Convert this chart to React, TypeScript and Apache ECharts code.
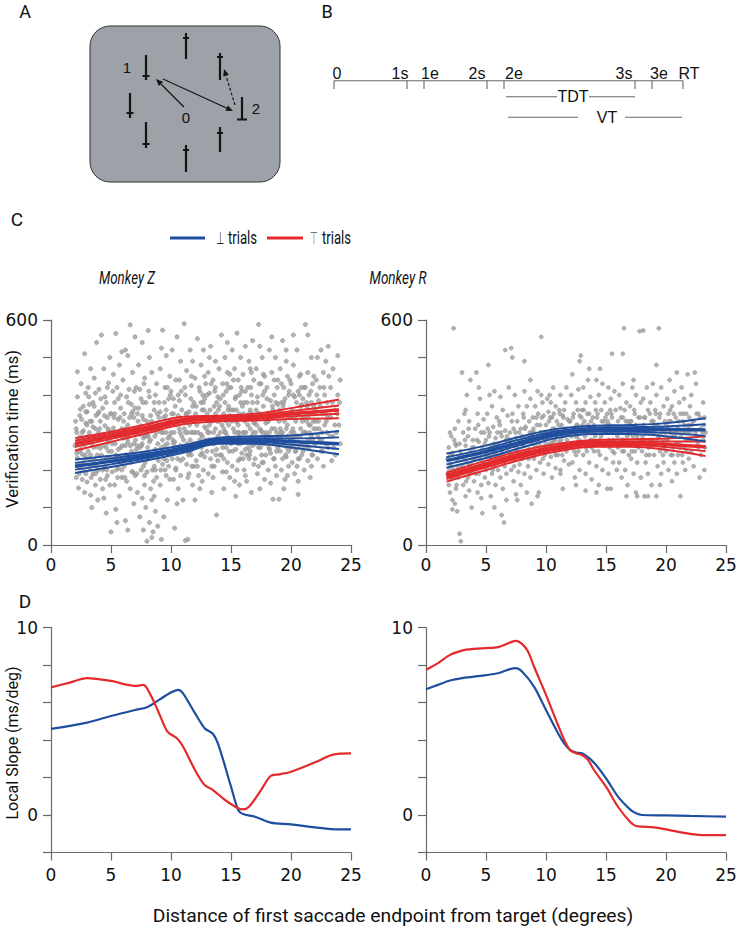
import React, { useEffect, useRef } from "react";
import * as echarts from "echarts";

const BLUE = "#1f4e9e";
const RED = "#e42a2d";
const PT = "#a0a0a0";

const vtLabelValues = [0, 600];
const slopeLabelValues = [0, 10];

// Monkey Z scatter: flat pairs [x, y, x, y, ...]
const scatterZ = [
  2.0,265, 2.1,310, 2.1,180, 2.2,232, 2.2,395, 2.3,280, 2.3,152, 2.4,345, 2.4,205, 2.5,430, 2.5,255, 2.6,175, 2.6,300, 2.7,370, 2.7,220, 2.8,510, 2.8,140, 2.8,268, 2.9,325, 2.9,190, 2.9,405, 2.2,462, 2.6,242, 2.4,288, 2.9,232,
  3.0,355, 3.0,168, 3.1,250, 3.1,420, 3.2,300, 3.2,205, 3.3,470, 3.3,133, 3.4,330, 3.4,270, 3.5,190, 3.5,380, 3.6,228, 3.6,445, 3.7,160, 3.7,310, 3.8,540, 3.8,262, 3.9,350, 3.9,198, 3.1,290, 3.3,240, 3.5,315, 3.7,405, 3.9,120, 3.4,100, 3.2,375,
  4.0,280, 4.0,415, 4.1,175, 4.1,330, 4.2,560, 4.2,240, 4.3,365, 4.3,150, 4.4,295, 4.4,470, 4.5,210, 4.5,395, 4.6,260, 4.6,85, 4.7,340, 4.7,185, 4.8,432, 4.8,305, 4.9,230, 4.9,500, 4.1,258, 4.3,200, 4.5,318, 4.7,272, 4.9,160, 4.4,125, 4.6,380,
  5.0,35, 5.0,350, 5.1,270, 5.1,195, 5.2,455, 5.2,312, 5.3,160, 5.3,380, 5.4,564, 5.4,240, 5.5,290, 5.5,420, 5.6,205, 5.6,335, 5.7,130, 5.7,480, 5.8,260, 5.8,365, 5.9,180, 5.9,310, 5.2,225, 5.4,95, 5.6,255, 5.8,400, 5.0,300, 5.5,60, 5.9,515,
  6.0,285, 6.0,440, 6.1,210, 6.1,350, 6.2,65, 6.2,265, 6.3,395, 6.3,170, 6.4,320, 6.4,505, 6.5,235, 6.5,290, 6.6,587, 6.6,150, 6.7,375, 6.7,250, 6.8,460, 6.8,195, 6.9,340, 6.9,110, 6.1,300, 6.3,230, 6.5,415, 6.7,300, 6.9,270, 6.4,40, 6.8,355, 6.2,520,
  7.0,310, 7.0,185, 7.1,420, 7.1,255, 7.2,140, 7.2,350, 7.3,480, 7.3,228, 7.4,295, 7.4,75, 7.5,390, 7.5,200, 7.6,540, 7.6,270, 7.7,40, 7.7,335, 7.8,160, 7.8,445, 7.9,245, 7.9,100, 7.1,300, 7.3,365, 7.5,318, 7.7,210, 7.9,380, 7.2,265, 7.6,125, 7.4,415, 7.8,290, 7.0,555,
  8.0,10, 8.0,330, 8.1,572, 8.1,230, 8.2,60, 8.2,395, 8.3,280, 8.3,150, 8.4,460, 8.4,120, 8.5,305, 8.5,35, 8.6,210, 8.6,360, 8.7,90, 8.7,255, 8.8,430, 8.8,180, 8.9,50, 8.9,320, 8.1,290, 8.3,345, 8.5,240, 8.7,400, 8.9,270, 8.2,500, 8.6,130, 8.4,20, 8.8,300, 8.0,195,
  9.0,380, 9.0,245, 9.1,160, 9.1,470, 9.2,15, 9.2,300, 9.3,573, 9.3,215, 9.4,340, 9.4,75, 9.5,420, 9.5,265, 9.6,185, 9.6,505, 9.7,320, 9.7,120, 9.8,390, 9.8,240, 9.9,290, 9.9,450, 9.1,355, 9.3,280, 9.5,200, 9.7,270, 9.9,175, 9.2,525, 9.6,360,
  10.0,300, 10.0,410, 10.1,230, 10.1,520, 10.2,350, 10.2,175, 10.3,45, 10.3,275, 10.4,440, 10.4,205, 10.5,330, 10.5,555, 10.6,260, 10.6,150, 10.7,385, 10.7,310, 10.8,490, 10.8,225, 10.9,290, 10.9,360, 10.2,270, 10.4,320, 10.6,400, 10.8,185, 10.0,250, 10.5,110,
  11.0,120, 11.0,330, 11.1,590, 11.1,260, 11.2,12, 11.2,400, 11.3,215, 11.3,465, 11.4,15, 11.4,300, 11.5,355, 11.5,190, 11.6,520, 11.6,280, 11.7,240, 11.7,425, 11.8,335, 11.8,160, 11.9,380, 11.9,270, 11.1,310, 11.3,350, 11.5,245, 11.7,300, 11.9,210, 11.4,180, 11.8,490,
  12.0,300, 12.0,445, 12.1,225, 12.1,370, 12.2,550, 12.2,265, 12.3,185, 12.3,330, 12.4,410, 12.4,150, 12.5,295, 12.5,480, 12.6,245, 12.6,360, 12.7,200, 12.7,520, 12.8,315, 12.8,390, 12.9,270, 12.9,430, 12.2,340, 12.4,280, 12.6,170, 12.8,235, 12.0,120, 12.5,380,
  13.0,350, 13.0,250, 13.1,460, 13.1,190, 13.2,300, 13.2,405, 13.3,530, 13.3,230, 13.4,330, 13.4,140, 13.5,270, 13.5,440, 13.6,370, 13.6,210, 13.7,490, 13.7,310, 13.8,80, 13.8,255, 13.9,395, 13.9,290, 13.1,340, 13.3,280, 13.5,180, 13.7,420, 13.9,225, 13.2,500,
  14.0,330, 14.0,470, 14.1,240, 14.1,390, 14.2,560, 14.2,280, 14.3,195, 14.3,430, 14.4,350, 14.4,150, 14.5,300, 14.5,500, 14.6,260, 14.6,410, 14.7,540, 14.7,220, 14.8,370, 14.8,320, 14.9,180, 14.9,455, 14.1,300, 14.3,260, 14.5,380, 14.7,290, 14.9,345, 14.4,230, 14.6,195,
  15.0,270, 15.0,420, 15.1,520, 15.1,210, 15.2,360, 15.2,310, 15.3,170, 15.3,470, 15.4,255, 15.4,395, 15.5,565, 15.5,330, 15.6,225, 15.6,440, 15.7,290, 15.7,160, 15.8,380, 15.8,500, 15.9,245, 15.9,340, 15.1,280, 15.3,300, 15.5,200, 15.7,350, 15.9,410, 15.4,130, 15.6,270,
  16.0,300, 16.0,455, 16.1,200, 16.1,380, 16.2,530, 16.2,255, 16.3,340, 16.3,170, 16.4,420, 16.4,280, 16.5,230, 16.5,490, 16.6,360, 16.6,310, 16.7,140, 16.7,400, 16.8,265, 16.8,545, 16.9,325, 16.9,215, 16.1,300, 16.3,240, 16.5,350, 16.7,290, 16.9,440, 16.2,185, 16.6,470,
  17.0,330, 17.0,230, 17.1,470, 17.1,285, 17.2,190, 17.2,395, 17.3,588, 17.3,260, 17.4,350, 17.4,150, 17.5,430, 17.5,305, 17.6,220, 17.6,500, 17.7,370, 17.7,270, 17.8,175, 17.8,410, 17.9,325, 17.9,240, 17.1,360, 17.3,210, 17.5,280, 17.7,455, 17.9,300, 17.4,530, 17.8,340,
  18.0,290, 18.0,420, 18.1,200, 18.1,350, 18.2,520, 18.2,255, 18.3,385, 18.3,165, 18.4,310, 18.4,460, 18.5,122, 18.5,280, 18.6,230, 18.6,400, 18.7,340, 18.7,500, 18.8,185, 18.8,300, 18.9,260, 18.9,440, 18.1,330, 18.3,245, 18.5,360, 18.7,210, 18.9,375, 18.4,555, 18.6,275,
  19.0,122, 19.0,330, 19.1,250, 19.1,470, 19.2,380, 19.2,200, 19.3,300, 19.3,545, 19.4,270, 19.4,420, 19.5,175, 19.5,350, 19.6,235, 19.6,490, 19.7,320, 19.7,290, 19.8,400, 19.8,210, 19.9,265, 19.9,440, 19.1,310, 19.3,230, 19.5,390, 19.7,185, 19.9,340, 19.4,150, 19.6,520,
  20.0,300, 20.0,430, 20.1,220, 20.1,360, 20.2,480, 20.2,265, 20.3,190, 20.3,395, 20.4,330, 20.4,250, 20.5,520, 20.5,290, 20.6,170, 20.6,410, 20.7,350, 20.7,230, 20.8,455, 20.8,310, 20.9,270, 20.9,375, 20.1,285, 20.3,340, 20.5,210, 20.7,400, 20.9,240, 20.2,560, 20.6,135,
  21.0,340, 21.0,250, 21.1,420, 21.1,200, 21.2,588, 21.2,300, 21.3,380, 21.3,270, 21.4,460, 21.4,225, 21.5,320, 21.5,400, 21.6,180, 21.6,350, 21.7,500, 21.7,290, 21.8,240, 21.8,430, 21.9,310, 21.9,370, 21.1,300, 21.3,330, 21.5,260, 21.7,210, 21.9,450, 21.4,560,
  22.0,360, 22.0,270, 22.1,440, 22.1,310, 22.2,230, 22.2,500, 22.3,385, 22.3,330, 22.4,280, 22.4,420, 22.5,520, 22.5,250, 22.6,350, 22.6,300, 22.7,460, 22.7,210, 22.8,400, 22.8,320, 22.9,270, 22.9,490,
  23.0,380, 23.0,300, 23.1,530, 23.1,260, 23.3,420, 23.3,340, 23.5,290, 23.5,470, 23.7,360, 23.7,240, 23.9,400, 23.9,505, 24.0,320, 24.1,440, 24.1,270, 23.4,225, 23.8,300,
  2.15,300, 2.35,250, 2.55,335, 2.75,198, 2.95,278, 2.25,215, 2.45,362, 2.65,285, 2.85,240, 2.05,330, 2.5,215, 2.7,305, 2.35,190, 2.9,355, 2.6,270, 2.15,245,
  3.05,275, 3.25,330, 3.45,215, 3.65,290, 3.85,240, 3.15,395, 3.35,180, 3.55,260, 3.75,345, 3.95,300, 3.2,230, 3.6,370, 3.8,210, 3.4,285, 3.0,320, 3.7,190,
  4.05,310, 4.25,225, 4.45,345, 4.65,200, 4.85,280, 4.15,390, 4.35,265, 4.55,175, 4.75,310, 4.95,350, 4.2,290, 4.6,230, 4.8,250, 4.4,205, 4.0,355, 4.7,420,
  5.05,250, 5.25,340, 5.45,200, 5.65,300, 5.85,220, 5.15,410, 5.35,270, 5.55,180, 5.75,340, 5.95,265, 5.1,300, 5.5,235, 5.8,295, 5.3,350, 5.6,390, 5.9,200,
  6.05,330, 6.25,240, 6.45,380, 6.65,220, 6.85,300, 6.15,180, 6.35,285, 6.55,340, 6.75,195, 6.95,410, 6.2,310, 6.6,265, 6.8,240, 6.4,275, 6.0,225, 6.7,350,
  7.05,280, 7.25,330, 7.45,240, 7.65,380, 7.85,220, 7.15,190, 7.35,310, 7.55,265, 7.75,430, 7.95,300, 7.2,235, 7.6,345, 7.8,185, 7.4,260, 7.0,365, 7.7,285,
  8.05,260, 8.25,320, 8.45,200, 8.65,290, 8.85,350, 8.15,410, 8.35,240, 8.55,170, 8.75,310, 8.95,225, 8.2,275, 8.6,380, 8.8,245, 8.4,330, 8.0,290, 8.7,200,
  9.05,310, 9.25,250, 9.45,380, 9.65,225, 9.85,330, 9.15,200, 9.35,300, 9.55,345, 9.75,285, 9.95,400, 9.2,260, 9.6,300, 9.8,210, 9.4,230, 9.0,340, 9.7,420,
  10.05,350, 10.25,300, 10.45,260, 10.65,330, 10.85,410, 10.15,280, 10.35,370, 10.55,230, 10.75,300, 10.95,250, 10.2,390, 10.6,345, 10.8,265, 10.4,200, 10.0,330, 10.7,440,
  11.05,280, 11.25,350, 11.45,240, 11.65,390, 11.85,300, 11.15,420, 11.35,270, 11.55,320, 11.75,210, 11.95,340, 11.2,300, 11.6,250, 11.8,370, 11.4,330, 11.0,230, 11.7,450,
  12.05,350, 12.25,300, 12.45,240, 12.65,400, 12.85,280, 12.15,320, 12.35,420, 12.55,260, 12.75,360, 12.95,310, 12.2,210, 12.6,290, 12.8,450, 12.4,340, 12.0,270, 12.7,380,
  13.05,300, 13.25,360, 13.45,250, 13.65,410, 13.85,330, 13.15,280, 13.35,430, 13.55,300, 13.75,240, 13.95,360, 13.2,320, 13.6,270, 13.8,380, 13.4,210, 13.0,400, 13.7,350,
  14.05,370, 14.25,320, 14.45,280, 14.65,430, 14.85,250, 14.15,340, 14.35,400, 14.55,300, 14.75,360, 14.95,280, 14.2,240, 14.6,330, 14.8,420, 14.4,310, 14.0,280, 14.7,460,
  15.05,330, 15.25,280, 15.45,360, 15.65,300, 15.85,420, 15.15,250, 15.35,390, 15.55,300, 15.75,230, 15.95,370, 15.2,440, 15.6,320, 15.8,270, 15.4,330, 15.0,360, 15.7,400,
  16.05,350, 16.25,300, 16.45,260, 16.65,420, 16.85,300, 16.15,330, 16.35,380, 16.55,240, 16.75,350, 16.95,280, 16.2,410, 16.6,250, 16.8,380, 16.4,320, 16.0,230, 16.7,460,
  17.05,300, 17.25,350, 17.45,260, 17.65,400, 17.85,290, 17.15,320, 17.35,430, 17.55,240, 17.75,340, 17.95,270, 17.2,380, 17.6,300, 17.8,450, 17.4,310, 17.0,270, 17.7,220,
  18.05,330, 18.25,280, 18.45,370, 18.65,310, 18.85,420, 18.15,260, 18.35,340, 18.55,230, 18.75,380, 18.95,290, 18.2,300, 18.6,440, 18.8,250, 18.4,350, 18.0,390, 18.7,270,
  19.05,360, 19.25,290, 19.45,330, 19.65,260, 19.85,410, 19.15,300, 19.35,370, 19.55,240, 19.75,350, 19.95,280, 19.2,430, 19.6,310, 19.8,250, 19.4,380, 19.0,270, 19.7,450,
  20.05,340, 20.25,300, 20.45,380, 20.65,260, 20.85,420, 20.15,310, 20.35,250, 20.55,350, 20.75,290, 20.95,330, 20.2,400, 20.6,230, 20.8,370, 20.4,290, 20.0,260, 20.7,450,
  21.05,300, 21.25,350, 21.45,280, 21.65,410, 21.85,330, 21.15,260, 21.35,370, 21.55,300, 21.75,240, 21.95,350, 21.2,420, 21.6,320, 21.8,280, 21.4,340, 21.0,390, 21.7,380,
  22.05,330, 22.25,290, 22.45,370, 22.65,250, 22.85,350, 22.15,400, 22.35,310, 22.55,280, 22.75,420, 22.95,330,
  23.05,340, 23.25,290, 23.45,380, 23.65,320, 23.85,350, 24.05,380, 23.15,450, 23.55,260,
];

// Monkey R scatter: flat pairs [x, y, ...]
const scatterR = [
  1.8,190, 1.8,230, 1.9,160, 1.9,260, 2.0,215, 2.0,140, 2.1,290, 2.1,175, 2.2,245, 2.2,120, 2.3,578, 2.3,200, 2.4,110, 2.4,310, 2.5,265, 2.5,150, 2.6,90, 2.6,225, 2.7,180, 2.7,330, 2.8,30, 2.8,270, 2.9,10, 2.9,205, 2.0,300, 2.5,185, 2.2,95,
  3.0,460, 3.0,240, 3.1,160, 3.1,300, 3.2,200, 3.2,350, 3.3,130, 3.3,265, 3.4,220, 3.4,400, 3.5,180, 3.5,290, 3.6,145, 3.6,330, 3.7,250, 3.7,440, 3.8,195, 3.8,100, 3.9,280, 3.9,230, 3.3,360, 3.6,210,
  4.0,260, 4.0,170, 4.1,310, 4.1,205, 4.2,460, 4.2,240, 4.3,140, 4.3,350, 4.4,275, 4.4,190, 4.5,230, 4.5,390, 4.6,160, 4.6,300, 4.7,250, 4.7,85, 4.8,335, 4.8,215, 4.9,270, 4.9,180, 4.4,420, 4.6,125,
  5.0,280, 5.0,200, 5.1,350, 5.1,240, 5.2,165, 5.2,480, 5.3,300, 5.3,225, 5.4,260, 5.4,130, 5.5,370, 5.5,190, 5.6,315, 5.6,245, 5.7,210, 5.7,410, 5.8,285, 5.8,160, 5.9,340, 5.9,230, 5.3,400, 5.7,100,
  6.0,270, 6.0,200, 6.1,330, 6.1,235, 6.2,180, 6.2,395, 6.3,290, 6.3,250, 6.4,150, 6.4,360, 6.5,60, 6.5,220, 6.6,520, 6.6,305, 6.7,260, 6.7,190, 6.8,345, 6.8,230, 6.9,280, 6.9,420, 6.3,80, 6.7,120,
  7.0,300, 7.0,240, 7.1,525, 7.1,200, 7.2,350, 7.2,265, 7.3,170, 7.3,310, 7.4,230, 7.4,400, 7.5,285, 7.5,135, 7.6,330, 7.6,250, 7.7,195, 7.7,370, 7.8,275, 7.8,215, 7.9,310, 7.9,160, 7.2,500, 7.6,120,
  8.0,290, 8.0,230, 8.1,350, 8.1,265, 8.2,190, 8.2,410, 8.3,315, 8.3,245, 8.4,140, 8.4,370, 8.5,280, 8.5,210, 8.6,330, 8.6,255, 8.7,390, 8.7,180, 8.8,300, 8.8,110, 8.9,240, 8.9,340, 8.2,490, 8.7,440,
  9.0,300, 9.0,230, 9.1,370, 9.1,265, 9.2,200, 9.2,340, 9.3,280, 9.3,410, 9.4,250, 9.4,140, 9.5,320, 9.5,220, 9.6,555, 9.6,300, 9.7,260, 9.7,380, 9.8,190, 9.8,345, 9.9,285, 9.9,240, 9.3,130, 9.6,400,
  10.0,320, 10.0,250, 10.1,390, 10.1,285, 10.2,215, 10.2,355, 10.3,270, 10.3,400, 10.4,300, 10.4,235, 10.5,340, 10.5,180, 10.6,275, 10.6,420, 10.7,310, 10.7,250, 10.8,370, 10.8,205, 10.9,290, 10.9,330, 10.4,380, 10.8,240,
  11.0,300, 11.0,240, 11.1,360, 11.1,275, 11.2,200, 11.2,400, 11.3,320, 11.3,260, 11.4,150, 11.4,345, 11.5,290, 11.5,225, 11.6,380, 11.6,310, 11.7,250, 11.7,420, 11.8,335, 11.8,270, 11.9,215, 11.9,300, 11.5,360, 11.2,190,
  12.0,330, 12.0,260, 12.1,400, 12.1,290, 12.2,220, 12.2,455, 12.3,310, 12.3,350, 12.4,270, 12.4,180, 12.5,380, 12.5,240, 12.6,320, 12.6,290, 12.7,250, 12.7,415, 12.8,345, 12.8,200, 12.9,275, 12.9,505, 12.5,160, 12.8,490,
  13.0,300, 13.0,360, 13.1,240, 13.1,420, 13.2,330, 13.2,270, 13.3,190, 13.3,380, 13.4,300, 13.4,250, 13.5,440, 13.5,320, 13.6,220, 13.6,350, 13.7,280, 13.7,395, 13.8,260, 13.8,175, 13.9,340, 13.9,300, 13.3,145, 13.6,470,
  14.0,320, 14.0,250, 14.1,380, 14.1,290, 14.2,210, 14.2,440, 14.3,350, 14.3,270, 14.4,160, 14.4,400, 14.5,310, 14.5,240, 14.6,360, 14.6,290, 14.7,200, 14.7,430, 14.8,330, 14.8,265, 14.9,380, 14.9,310, 14.5,470, 14.2,140,
  15.0,300, 15.0,230, 15.1,350, 15.1,270, 15.2,420, 15.2,190, 15.3,320, 15.3,260, 15.4,390, 15.4,150, 15.5,300, 15.5,340, 15.6,220, 15.6,280, 15.7,410, 15.7,245, 15.8,360, 15.8,310, 15.9,200, 15.9,270, 15.5,510, 15.1,150,
  16.0,330, 16.0,260, 16.1,400, 16.1,220, 16.2,300, 16.2,365, 16.3,180, 16.3,280, 16.4,340, 16.4,430, 16.5,578, 16.5,250, 16.6,310, 16.6,200, 16.7,380, 16.7,270, 16.8,160, 16.8,330, 16.9,295, 16.9,240, 16.4,510, 16.7,130,
  17.0,300, 17.0,370, 17.1,230, 17.1,330, 17.2,270, 17.2,420, 17.3,190, 17.3,310, 17.4,350, 17.4,250, 17.5,140, 17.5,400, 17.6,290, 17.6,220, 17.7,340, 17.7,260, 17.8,570, 17.8,305, 17.9,180, 17.9,380, 17.3,440, 17.6,130,
  18.0,310, 18.0,250, 18.1,390, 18.1,280, 18.2,130, 18.2,340, 18.3,220, 18.3,300, 18.4,420, 18.4,265, 18.5,360, 18.5,190, 18.6,310, 18.6,240, 18.7,380, 18.7,280, 18.8,160, 18.8,330, 18.9,270, 18.9,430, 18.1,572, 18.5,130,
  19.0,300, 19.0,240, 19.1,360, 19.1,270, 19.2,130, 19.2,400, 19.3,320, 19.3,210, 19.4,578, 19.4,290, 19.5,350, 19.5,250, 19.6,190, 19.6,420, 19.7,310, 19.7,275, 19.8,370, 19.8,220, 19.9,330, 19.9,265, 19.2,480, 19.5,160,
  20.0,320, 20.0,250, 20.1,390, 20.1,280, 20.2,200, 20.2,350, 20.3,300, 20.3,440, 20.4,240, 20.4,330, 20.5,170, 20.5,370, 20.6,290, 20.6,260, 20.7,410, 20.7,220, 20.8,340, 20.8,300, 20.9,190, 20.9,460,
  21.0,310, 21.0,240, 21.1,380, 21.1,270, 21.2,130, 21.2,350, 21.3,300, 21.3,420, 21.4,220, 21.4,330, 21.5,260, 21.5,390, 21.6,200, 21.6,300, 21.7,350, 21.7,250, 21.8,455, 21.8,280, 21.9,320, 21.9,230,
  22.0,300, 22.0,370, 22.1,250, 22.1,400, 22.3,330, 22.3,210, 22.5,290, 22.5,430, 22.7,260, 22.7,350, 22.9,310, 22.9,240, 23.1,380, 23.1,280, 23.2,200, 23.2,340, 23.3,300, 22.4,460, 22.8,180,
  2.05,240, 2.25,180, 2.45,270, 2.65,205, 2.85,250, 2.15,210, 2.55,160, 2.75,235, 1.95,200, 2.35,280,
  3.05,210, 3.25,280, 3.45,240, 3.65,190, 3.85,260, 3.15,230, 3.55,310, 3.75,215, 3.35,170, 3.95,245,
  4.05,230, 4.25,280, 4.45,210, 4.65,260, 4.85,300, 4.15,190, 4.55,245, 4.75,220, 4.35,320, 4.95,240,
  5.05,250, 5.25,290, 5.45,220, 5.65,270, 5.85,240, 5.15,310, 5.55,200, 5.75,260, 5.35,235, 5.95,300,
  6.05,260, 6.25,300, 6.45,240, 6.65,280, 6.85,250, 6.15,320, 6.55,210, 6.75,290, 6.35,230, 6.95,265,
  7.05,280, 7.25,230, 7.45,300, 7.65,270, 7.85,240, 7.15,330, 7.55,260, 7.75,300, 7.35,210, 7.95,280,
  8.05,270, 8.25,310, 8.45,250, 8.65,300, 8.85,270, 8.15,340, 8.55,230, 8.75,290, 8.35,280, 8.95,310,
  9.05,280, 9.25,320, 9.45,270, 9.65,340, 9.85,300, 9.15,250, 9.55,300, 9.75,230, 9.35,350, 9.95,270,
  10.05,300, 10.25,330, 10.45,270, 10.65,350, 10.85,300, 10.15,260, 10.55,310, 10.75,280, 10.35,340, 10.95,260,
  11.05,320, 11.25,280, 11.45,340, 11.65,300, 11.85,260, 11.15,350, 11.55,300, 11.75,280, 11.35,240, 11.95,330,
  12.05,300, 12.25,340, 12.45,290, 12.65,360, 12.85,310, 12.15,270, 12.55,320, 12.75,280, 12.35,250, 12.95,340,
  13.05,320, 13.25,290, 13.45,350, 13.65,310, 13.85,280, 13.15,360, 13.55,300, 13.75,330, 13.35,260, 13.95,310,
  14.05,300, 14.25,340, 14.45,280, 14.65,330, 14.85,300, 14.15,360, 14.55,270, 14.75,310, 14.35,250, 14.95,340,
  15.05,320, 15.25,280, 15.45,350, 15.65,300, 15.85,270, 15.15,330, 15.55,250, 15.75,310, 15.35,360, 15.95,290,
  16.05,300, 16.25,340, 16.45,280, 16.65,330, 16.85,270, 16.15,310, 16.55,360, 16.75,290, 16.35,250, 16.95,320,
  17.05,330, 17.25,290, 17.45,320, 17.65,270, 17.85,340, 17.15,250, 17.55,300, 17.75,310, 17.35,360, 17.95,280,
  18.05,290, 18.25,340, 18.45,300, 18.65,350, 18.85,280, 18.15,320, 18.55,260, 18.75,300, 18.35,240, 18.95,330,
  19.05,320, 19.25,280, 19.45,340, 19.65,300, 19.85,260, 19.15,350, 19.55,310, 19.75,240, 19.35,290, 19.95,300,
  20.05,280, 20.25,330, 20.45,300, 20.65,350, 20.85,270, 20.15,310, 20.55,240, 20.75,290, 20.35,360, 20.95,300,
  21.05,330, 21.25,290, 21.45,350, 21.65,280, 21.85,310, 21.15,260, 21.55,320, 21.75,300, 21.35,240, 21.95,340,
  22.05,280, 22.25,330, 22.45,300, 22.65,270, 22.85,340, 23.05,300, 23.25,260, 22.15,320, 22.55,350, 23.15,320,
];

// Fitted curves (panel C)
const fitZX = [2, 5, 8, 11, 14, 17, 20, 24];
const zRedHi = [285, 302, 322, 342, 345, 350, 365, 388];
const zRedHiIn = [278, 297, 316, 337, 342, 345, 357, 372];
const zRedMid = [270, 290, 310, 332, 338, 340, 350, 360];
const zRedLoIn = [262, 283, 304, 327, 334, 336, 343, 350];
const zRedLo = [252, 275, 298, 322, 330, 332, 336, 338];
const zBlueHi = [228, 238, 250, 266, 286, 290, 292, 304];
const zBlueHiIn = [219, 231, 244, 261, 282, 285, 284, 287];
const zBlueMid = [210, 223, 238, 256, 278, 280, 276, 270];
const zBlueLoIn = [201, 215, 232, 251, 274, 275, 268, 256];
const zBlueLo = [192, 208, 226, 246, 270, 270, 260, 242];

const fitRX = [1.7, 5, 8, 11, 14, 17, 20, 23.3];
const rBlueHi = [244, 265, 290, 310, 318, 320, 325, 338];
const rBlueHiIn = [234, 257, 283, 304, 313, 314, 316, 322];
const rBlueMid = [225, 249, 275, 298, 307, 308, 308, 307];
const rBlueLoIn = [215, 240, 268, 292, 302, 302, 299, 291];
const rBlueLo = [206, 232, 260, 286, 296, 296, 290, 276];
const rRedHi = [193, 225, 252, 270, 280, 282, 284, 289];
const rRedHiIn = [188, 219, 246, 265, 276, 277, 276, 276];
const rRedMid = [182, 213, 240, 260, 271, 272, 268, 262];
const rRedLoIn = [176, 207, 234, 255, 267, 267, 261, 250];
const rRedLo = [169, 200, 228, 250, 262, 262, 254, 237];

// Local slope (panel D)
const slopeZRed: [number, number][] = [
  [0, 6.81], [1.5, 7.05], [3, 7.3], [5, 7.15], [7, 6.89], [7.7, 6.94], [8.3, 6.4], [9, 5.43], [9.7, 4.45], [10.5, 4.09],
  [11, 3.65], [12, 2.4], [12.8, 1.6], [13.5, 1.33], [14.5, 0.8], [15.5, 0.39], [16, 0.3], [16.5, 0.44], [17.5, 1.33],
  [18.3, 2.08], [19, 2.17], [20, 2.31], [22, 2.81], [23.5, 3.22], [25, 3.29],
];
const slopeZBlue: [number, number][] = [
  [0, 4.59], [3, 4.93], [5, 5.28], [7, 5.6], [8, 5.75], [9, 6.14], [10, 6.53], [10.6, 6.67], [11, 6.49], [12, 5.43],
  [12.8, 4.63], [13.5, 4.32], [14, 3.65], [15, 1.51], [15.6, 0.27], [16, 0.05], [17, -0.09], [18.3, -0.41], [20, -0.5],
  [22, -0.66], [24, -0.77], [25, -0.77],
];
const slopeRRed: [number, number][] = [
  [0, 7.74], [1, 8.1], [2, 8.54], [3, 8.77], [4, 8.86], [5, 8.9], [6, 8.95], [7, 9.2], [7.5, 9.29], [8, 9.13], [8.5, 8.72],
  [9, 7.92], [10, 6.41], [11, 4.8], [11.5, 4.04], [12, 3.47], [12.5, 3.29], [13, 3.2], [13.5, 2.94], [14, 2.4], [15, 1.51],
  [16, 0.44], [17, -0.36], [17.5, -0.59], [18, -0.62], [19, -0.66], [20, -0.77], [22, -1.01], [23, -1.07], [25, -1.07],
];
const slopeRBlue: [number, number][] = [
  [0, 6.71], [1, 6.94], [2, 7.17], [3, 7.3], [4, 7.38], [5, 7.46], [6, 7.56], [7, 7.78], [7.5, 7.83], [8, 7.65], [9, 6.85],
  [10, 5.6], [11, 4.36], [11.5, 3.83], [12, 3.47], [12.5, 3.33], [13, 3.29], [14, 2.79], [15, 1.96], [16, 0.98], [17, 0.3],
  [17.5, 0.09], [18, 0], [20, -0.02], [22, -0.05], [25, -0.09],
];

const timelineLabels = ["0", "1s", "1e", "2s", "2e", "3s", "3e", "RT"];

const MY = "Roboto, 'Open Sans', 'DejaVu Sans', sans-serif";
const TICKFONT = "'DejaVu Sans', sans-serif";
const HEL = "'Liberation Sans', Arial, sans-serif";
const SYM = "'DejaVu Sans', sans-serif";

function pairs(flat: number[]): number[][] {
  const out: number[][] = [];
  for (let i = 0; i + 1 < flat.length; i += 2) out.push([flat[i], flat[i + 1]]);
  return out;
}

export default function App() {
  const ref = useRef<HTMLDivElement>(null);
  useEffect(() => {
    document.body.style.margin = "0";
    const chart = echarts.init(ref.current!, null, { renderer: "svg" });
    const ctx = document.createElement("canvas").getContext("2d")!;
    const fit = (text: string, font: string, target: number) => {
      ctx.font = font;
      const w = ctx.measureText(text).width;
      return w > 0 ? target / w : 1;
    };

    const axisColor = "#6a6a6a";
    const lineStyle = { color: axisColor, width: 1.2 };
    const xAxis = (gridIndex: number, margin: number) => ({
      type: "value",
      gridIndex,
      min: 0,
      max: 25,
      interval: 5,
      axisLine: { show: true, onZero: false, lineStyle },
      axisTick: { show: true, length: 8, lineStyle },
      axisLabel: { margin, fontFamily: TICKFONT, fontSize: 17, color: "#111", showMinLabel: true, showMaxLabel: true },
      splitLine: { show: false },
    });
    const yAxis = (gridIndex: number, min: number, max: number, interval: number, shown: number[]) => ({
      type: "value",
      gridIndex,
      min,
      max,
      interval,
      axisLine: { show: true, onZero: false, lineStyle },
      axisTick: { show: true, length: 8, lineStyle },
      axisLabel: {
        margin: 13,
        fontFamily: TICKFONT,
        fontSize: 17,
        color: "#111",
        formatter: (v: number) => (shown.indexOf(v) >= 0 ? String(v) : ""),
      },
      splitLine: { show: false },
    });

    const curve = (idx: number, xs: number[], ys: number[], color: string, width: number, z: number) => ({
      type: "line",
      xAxisIndex: idx,
      yAxisIndex: idx,
      data: xs.map((x, i) => [x, ys[i]]),
      smooth: 0.4,
      symbol: "none",
      lineStyle: { color, width },
      z,
      silent: true,
    });
    const slope = (idx: number, data: [number, number][], color: string) => ({
      type: "line",
      xAxisIndex: idx,
      yAxisIndex: idx,
      data,
      smooth: 0.3,
      symbol: "none",
      lineStyle: { color, width: 2.2 },
      z: 3,
      silent: true,
    });
    const scatter = (idx: number, flat: number[], size: number) => ({
      type: "scatter",
      xAxisIndex: idx,
      yAxisIndex: idx,
      data: pairs(flat),
      symbol: "circle",
      symbolSize: size,
      itemStyle: { color: PT, borderColor: "#8a8a8a", borderWidth: 0.6 },
      z: 1,
      silent: true,
    });

    // ---------- graphic elements ----------
    const g: any[] = [];
    const txt = (text: string, x: number, y: number, font: { size: number; family: string; style?: string }, opts: any = {}) => ({
      type: "text",
      x,
      y,
      rotation: opts.rotation || 0,
      scaleX: opts.scaleX || 1,
      scaleY: opts.scaleY || 1,
      style: {
        text,
        fontSize: font.size,
        fontFamily: font.family,
        fontStyle: font.style || "normal",
        fill: opts.fill || "#111",
        align: opts.align || "center",
        verticalAlign: "middle",
      },
      z: 10,
    });
    const ln = (x1: number, y1: number, x2: number, y2: number, stroke: string, lineWidth: number, lineDash?: number[]) => ({
      type: "line",
      shape: { x1, y1, x2, y2 },
      style: { stroke, lineWidth, lineDash: lineDash || null },
      z: 10,
    });

    // panel letters
    g.push(txt("A", 25, 11, { size: 18, family: MY }));
    g.push(txt("B", 327, 11, { size: 18, family: MY }));
    g.push(txt("C", 17, 219, { size: 19, family: MY }));
    g.push(txt("D", 25, 601, { size: 19, family: MY }));

    // panel A: search display
    g.push({
      type: "rect",
      shape: { x: 90, y: 26, width: 190, height: 156, r: 20 },
      style: { fill: "#9da1a8", stroke: "#333", lineWidth: 1 },
      z: 5,
    });
    const daggers = [
      [186, 33, 59, 38, 3],
      [220, 53, 80, 57, 3],
      [146, 55, 80, 76, 3.5],
      [130, 93, 118, 113, 3.5],
      [146, 122, 148, 144, 3.5],
      [186, 145, 172, 150, 3],
      [220, 127, 152, 133, 3],
      [242, 97, 120, 119.5, 5],
    ];
    daggers.forEach(([x, y1, y2, cy, hw]) => {
      g.push(ln(x, y1, x, y2, "#151515", 2.2));
      g.push(ln(x - hw, cy, x + hw, cy, "#151515", 2));
    });
    g.push(txt("1", 127, 67, { size: 15, family: HEL }));
    g.push(txt("0", 186, 117, { size: 15, family: HEL }));
    g.push(txt("2", 256, 108, { size: 15, family: HEL }));
    // arrows
    g.push(ln(184, 107, 161, 84, "#151515", 1.2));
    g.push({ type: "polygon", shape: { points: [[156, 79], [163.1, 81.8], [158.8, 86.1]] }, style: { fill: "#151515" }, z: 10 });
    g.push(ln(163, 79, 227, 108.3, "#151515", 1.2));
    g.push({ type: "polygon", shape: { points: [[233, 111], [225.4, 110.8], [227.9, 105.4]] }, style: { fill: "#151515" }, z: 10 });
    g.push(ln(235, 105, 226, 75.7, "#151515", 1.2, [3, 2]));
    g.push({ type: "polygon", shape: { points: [[224, 69], [228.9, 74.8], [223.2, 76.6]] }, style: { fill: "#151515" }, z: 10 });

    // panel B: timeline
    const tl = "#6a6a6a";
    const tickXs = [334, 407, 424, 487, 504, 635, 652, 683];
    const labelXs = [337, 400, 430, 477, 514, 624, 659, 689];
    g.push(ln(334, 80.7, 683, 80.7, tl, 1.1));
    tickXs.forEach((x) => g.push(ln(x, 80.7, x, 89, tl, 1.1)));
    timelineLabels.forEach((t, i) => g.push(txt(t, labelXs[i], 73, { size: 16, family: HEL })));
    g.push(ln(506, 96.7, 557, 96.7, tl, 1.1));
    g.push(ln(589, 96.7, 635, 96.7, tl, 1.1));
    g.push(txt("TDT", 573, 96, { size: 16, family: HEL }));
    g.push(ln(508, 117.3, 578, 117.3, tl, 1.1));
    g.push(ln(625, 117.3, 682, 117.3, tl, 1.1));
    g.push(txt("VT", 607, 117.5, { size: 16, family: HEL }));

    // legend
    g.push(ln(170, 238, 205, 238, BLUE, 3));
    g.push(ln(267, 238, 303, 238, RED, 3));
    const symFont = `17px ${SYM}`;
    const legFont = `18px ${MY}`;
    g.push(txt("⊥", 220.5, 238, { size: 17, family: SYM }, { scaleX: fit("⊥", symFont, 8), fill: "#222" }));
    g.push(txt("trials", 228, 238, { size: 18, family: MY }, { align: "left", scaleX: fit("trials", legFont, 29) }));
    g.push(txt("⊤", 314, 238, { size: 17, family: SYM }, { scaleX: fit("⊤", symFont, 8), fill: "#777" }));
    g.push(txt("trials", 322, 238, { size: 18, family: MY }, { align: "left", scaleX: fit("trials", legFont, 29) }));

    // subplot titles
    const titleFont = `italic 19px ${MY}`;
    g.push(txt("Monkey Z", 127, 278, { size: 19, family: MY, style: "italic" }, { scaleX: fit("Monkey Z", titleFont, 56) }));
    g.push(txt("Monkey R", 398, 278, { size: 19, family: MY, style: "italic" }, { scaleX: fit("Monkey R", titleFont, 57) }));

    // axis titles
    const axFont = `18px ${MY}`;
    const xt = "Distance of first saccade endpoint from target (degrees)";
    g.push(txt(xt, 393, 916, { size: 18, family: MY }, { scaleX: fit(xt, axFont, 481) }));
    const yFont = `17px ${MY}`;
    const yt1 = "Verification time (ms)";
    g.push(txt(yt1, 12, 429, { size: 17, family: MY }, { rotation: Math.PI / 2, scaleX: fit(yt1, yFont, 158) }));
    const yt2 = "Local Slope (ms/deg)";
    g.push(txt(yt2, 12, 743, { size: 17, family: MY }, { rotation: Math.PI / 2, scaleX: fit(yt2, yFont, 153) }));

    const option: any = {
      animation: false,
      backgroundColor: "#fff",
      grid: [
        { left: 51, top: 320, width: 300, height: 225, outerBoundsMode: "none" },
        { left: 426, top: 320, width: 300, height: 225, outerBoundsMode: "none" },
        { left: 51, top: 627.5, width: 300, height: 225, outerBoundsMode: "none" },
        { left: 426, top: 627.5, width: 300, height: 225, outerBoundsMode: "none" },
      ],
      xAxis: [xAxis(0, 11), xAxis(1, 11), xAxis(2, 14), xAxis(3, 14)],
      yAxis: [
        yAxis(0, 0, 600, 100, vtLabelValues),
        yAxis(1, 0, 600, 100, vtLabelValues),
        yAxis(2, -2, 10, 2, slopeLabelValues),
        yAxis(3, -2, 10, 2, slopeLabelValues),
      ],
      series: [
        scatter(0, scatterZ, 4.3),
        scatter(1, scatterR, 4),
        curve(0, fitZX, zBlueHi, BLUE, 2, 2),
        curve(0, fitZX, zBlueLo, BLUE, 2, 2),
        curve(0, fitZX, zBlueHiIn, BLUE, 2, 2),
        curve(0, fitZX, zBlueLoIn, BLUE, 2, 2),
        curve(0, fitZX, zBlueMid, BLUE, 3.5, 3),
        curve(0, fitZX, zRedHi, RED, 2, 2),
        curve(0, fitZX, zRedLo, RED, 2, 2),
        curve(0, fitZX, zRedHiIn, RED, 2, 2),
        curve(0, fitZX, zRedLoIn, RED, 2, 2),
        curve(0, fitZX, zRedMid, RED, 3.5, 3),
        curve(1, fitRX, rRedHi, RED, 2, 2),
        curve(1, fitRX, rRedLo, RED, 2, 2),
        curve(1, fitRX, rRedHiIn, RED, 2, 2),
        curve(1, fitRX, rRedLoIn, RED, 2, 2),
        curve(1, fitRX, rRedMid, RED, 3.5, 3),
        curve(1, fitRX, rBlueHi, BLUE, 2, 4),
        curve(1, fitRX, rBlueLo, BLUE, 2, 4),
        curve(1, fitRX, rBlueHiIn, BLUE, 2, 4),
        curve(1, fitRX, rBlueLoIn, BLUE, 2, 4),
        curve(1, fitRX, rBlueMid, BLUE, 3.5, 5),
        slope(2, slopeZBlue, BLUE),
        slope(2, slopeZRed, RED),
        slope(3, slopeRBlue, BLUE),
        slope(3, slopeRRed, RED),
      ],
      graphic: { elements: g },
    };
    chart.setOption(option);
    return () => chart.dispose();
  }, []);
  return (
    <div
      ref={ref}
      style={{ position: "absolute", left: 0, top: 0, width: 737, height: 927, background: "#fff" }}
    />
  );
}
